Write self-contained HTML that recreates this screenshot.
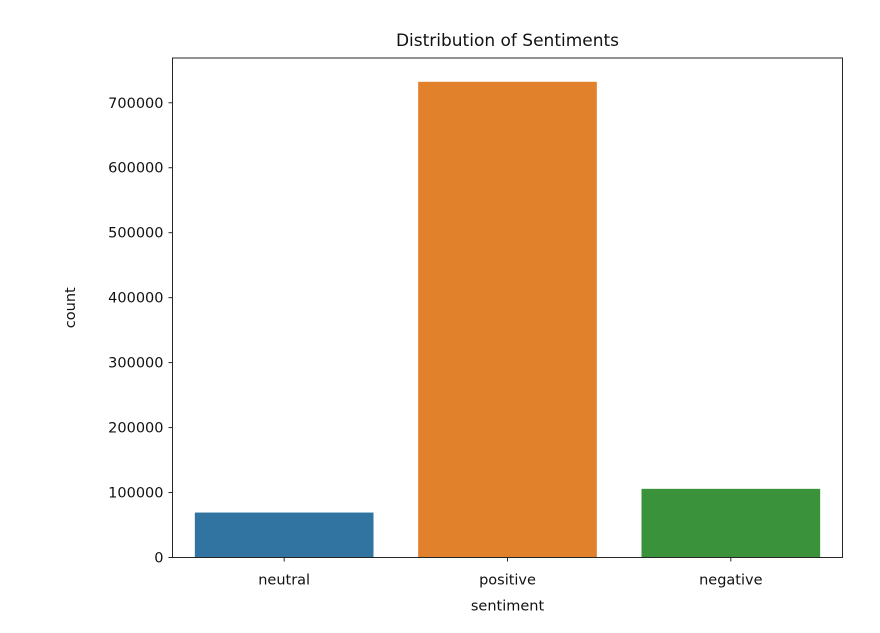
<!DOCTYPE html>
<html><head><meta charset="utf-8"><style>
body{margin:0;background:#fff;}
svg text{font-family:"DejaVu Sans","Liberation Sans",sans-serif;fill:#111;}
</style></head><body>
<svg id="chart" width="880" height="628"></svg>
<script>
const categories = ["neutral","positive","negative"];
const counts = [69200, 732300, 105700];
const colors = ["#3274a1","#e1812c","#3a923a"];
const yTicks = [0,100000,200000,300000,400000,500000,600000,700000];

const L=172.5, R=842.5, T=58, B=557.5;
const yMax = Math.max(...counts)*1.05;
const y = v => B - v/yMax*(B-T);
const bw = (R-L)/categories.length;
const x = i => L + bw*(i+0.5);
const NS="http://www.w3.org/2000/svg";
const svg=document.getElementById('chart');
function mk(tag,attrs,text){const e=document.createElementNS(NS,tag);for(const k in attrs)e.setAttribute(k,attrs[k]);if(text!==undefined)e.textContent=text;svg.appendChild(e);return e;}

categories.forEach((c,i)=>{
  const w=bw*0.8;
  const r=mk('rect',{x:x(i)-w/2,y:y(counts[i]),width:w,height:B-y(counts[i]),fill:colors[i]});
  
  
  const t=mk('line',{x1:x(i),x2:x(i),y1:B,y2:B+4,stroke:'#262626','stroke-width':1});
  
  
  const lb=mk('text',{x:x(i),y:B+27,'text-anchor':'middle','font-size':14.5},c);
  
  
});
yTicks.forEach(v=>{
  const t=mk('line',{x1:L-4,x2:L,y1:y(v),y2:y(v),stroke:'#262626','stroke-width':1});
  
  
  const lb=mk('text',{x:L-9,y:y(v)+5,'text-anchor':'end','font-size':14.5},String(v));
  
  
});
const fr=mk('rect',{x:L,y:T,width:R-L,height:B-T,fill:'none',stroke:'#262626','stroke-width':1});


const ti=mk('text',{x:(L+R)/2,y:T-12,'text-anchor':'middle','font-size':17},'Distribution of Sentiments');


const xt=mk('text',{x:(L+R)/2,y:B+53,'text-anchor':'middle','font-size':14.5},'sentiment');


const yt=mk('text',{x:0,y:0,'text-anchor':'middle','font-size':14.5,transform:'translate(75,'+((T+B)/2)+') rotate(-90)'},'count');


</script>
</body></html>
